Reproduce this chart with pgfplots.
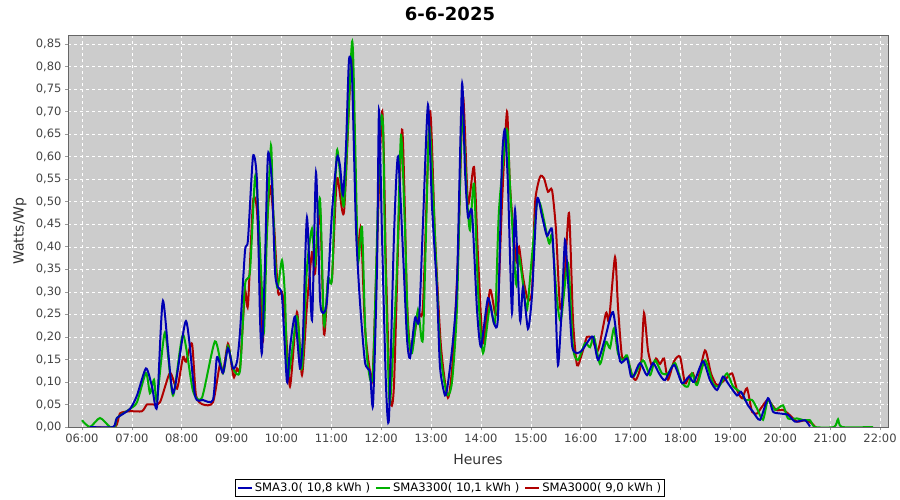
\documentclass[border=0pt]{standalone}
\usepackage{pgfplots}
\pgfplotsset{compat=1.18}
\usepackage{fontspec}
\setmainfont{DejaVu Sans}
\definecolor{cblue}{RGB}{0,0,180}
\definecolor{cgreen}{RGB}{0,176,0}
\definecolor{cred}{RGB}{176,0,0}
\definecolor{plotbg}{RGB}{204,204,204}
\definecolor{ticktext}{RGB}{68,68,68}
\begin{document}
\begin{tikzpicture}
\useasboundingbox (0,0) rectangle (900bp,500bp);
\begin{axis}[
  at={(68bp,73bp)}, anchor=south west,
  width=820bp, height=392bp, scale only axis,
  xmin=5.72, xmax=22.16, ymin=0, ymax=0.87,
  axis background/.style={fill=plotbg},
  axis line style={draw=black!60, line width=0.8bp},
  xtick={6,7,...,22},
  xticklabels={06:00,07:00,08:00,09:00,10:00,11:00,12:00,13:00,14:00,15:00,16:00,17:00,18:00,19:00,20:00,21:00,22:00},
  ytick={0,0.05,...,0.86},
  yticklabel style={/pgf/number format/.cd, fixed, fixed zerofill, precision=2, use comma, assume math mode=true},
  ticklabel style={font=\fontsize{11.5bp}{13bp}\selectfont, text=ticktext},
  tick align=outside, major tick length=3bp,
  tick style={draw=black!40, line width=0.6bp},
  xtick pos=bottom, ytick pos=left,
  grid=major,
  major grid style={draw=white, dashed, line width=0.5bp},
  legend columns=3, reverse legend,
  legend style={at={(0.4659,-0.1556)}, anchor=center, draw=black, line width=0.6bp,
    font=\fontsize{11.6bp}{13bp}\selectfont, inner sep=1.5bp,
    /tikz/every even column/.append style={column sep=3bp}},
  legend cell align=left,
  legend image code/.code={\draw[#1, line width=1.8bp] (0cm,0cm) -- (0.5cm,0cm);},
  clip=true,
]
% SMA3000
\addplot[cred, line width=2bp, smooth, tension=0.4] coordinates {
(6.200,0.0)(6.662,0.0)(6.762,0.03)(6.962,0.035)(7.203,0.035)(7.303,0.05)(7.404,0.05)(7.564,0.055)
(7.764,0.12)(7.905,0.085)(8.025,0.155)(8.085,0.145)(8.206,0.185)(8.286,0.07)(8.426,0.05)(8.627,0.055)
(8.767,0.14)(8.827,0.12)(8.927,0.185)(9.008,0.13)(9.048,0.11)(9.108,0.13)(9.168,0.13)(9.268,0.30)
(9.328,0.27)(9.429,0.50)(9.509,0.48)(9.589,0.28)(9.629,0.19)(9.689,0.40)(9.769,0.535)(9.850,0.45)
(9.930,0.30)(10.010,0.30)(10.070,0.25)(10.170,0.09)(10.311,0.255)(10.411,0.115)(10.511,0.27)
(10.612,0.388)(10.672,0.34)(10.772,0.485)(10.852,0.206)(10.932,0.32)(11.013,0.33)(11.113,0.552)
(11.253,0.477)(11.414,0.826)(11.514,0.41)(11.594,0.44)(11.674,0.22)(11.774,0.125)(11.835,0.13)
(12.015,0.70)(12.095,0.353)(12.175,0.07)(12.256,0.095)(12.416,0.66)(12.516,0.28)(12.596,0.165)
(12.737,0.253)(12.837,0.27)(12.977,0.70)(13.078,0.422)(13.198,0.178)(13.338,0.065)(13.439,0.155)
(13.539,0.378)(13.639,0.733)(13.739,0.497)(13.860,0.577)(13.940,0.378)(14.040,0.186)(14.180,0.304)
(14.281,0.253)(14.341,0.268)(14.421,0.497)(14.521,0.70)(14.581,0.536)(14.702,0.37)(14.762,0.40)
(14.842,0.333)(14.942,0.282)(15.023,0.304)(15.083,0.497)(15.183,0.555)(15.263,0.552)(15.343,0.522)
(15.424,0.526)(15.504,0.437)(15.584,0.266)(15.664,0.31)(15.764,0.475)(15.845,0.237)(15.925,0.137)
(16.025,0.163)(16.125,0.20)(16.226,0.196)(16.346,0.17)(16.506,0.253)(16.567,0.237)(16.687,0.377)
(16.747,0.266)(16.827,0.156)(16.927,0.156)(17.028,0.115)(17.108,0.105)(17.208,0.14)(17.268,0.253)
(17.348,0.17)(17.429,0.135)(17.509,0.152)(17.589,0.14)(17.669,0.152)(17.749,0.105)(17.870,0.146)
(17.990,0.156)(18.090,0.097)(18.170,0.112)(18.251,0.119)(18.331,0.097)(18.491,0.17)(18.611,0.119)
(18.732,0.093)(18.892,0.105)(19.033,0.119)(19.133,0.082)(19.233,0.064)(19.333,0.086)(19.434,0.034)
(19.534,0.03)(19.634,0.045)(19.754,0.06)(19.915,0.038)(20.055,0.038)(20.155,0.03)(20.336,0.012)
(20.496,0.015)(20.637,0.008)(20.697,0.0)
};
\addlegendentry{SMA3000( 9,0 kWh )}
% SMA3300
\addplot[cgreen, line width=2bp, smooth, tension=0.4] coordinates {
(6.000,0.015)(6.160,0.0)(6.361,0.02)(6.561,0.0)(6.662,0.0)(6.702,0.02)(6.962,0.04)(7.103,0.055)
(7.283,0.12)(7.363,0.075)(7.444,0.105)(7.504,0.06)(7.664,0.21)(7.825,0.07)(8.025,0.205)(8.226,0.08)
(8.406,0.065)(8.667,0.19)(8.827,0.12)(8.927,0.18)(9.028,0.13)(9.168,0.125)(9.268,0.315)(9.368,0.345)
(9.469,0.555)(9.529,0.49)(9.609,0.30)(9.649,0.21)(9.709,0.43)(9.789,0.625)(9.830,0.495)(9.910,0.31)
(10.010,0.37)(10.070,0.29)(10.130,0.11)(10.311,0.245)(10.411,0.13)(10.511,0.353)(10.612,0.44)
(10.672,0.36)(10.772,0.507)(10.852,0.226)(10.932,0.33)(11.013,0.33)(11.113,0.614)(11.253,0.493)
(11.414,0.855)(11.474,0.648)(11.534,0.37)(11.614,0.444)(11.674,0.233)(11.734,0.135)(11.835,0.125)
(11.975,0.648)(12.035,0.67)(12.075,0.41)(12.155,0.075)(12.195,0.08)(12.316,0.353)(12.396,0.648)
(12.476,0.44)(12.536,0.22)(12.617,0.164)(12.737,0.26)(12.837,0.20)(12.957,0.66)(13.038,0.525)
(13.178,0.178)(13.318,0.073)(13.419,0.10)(13.519,0.266)(13.619,0.69)(13.719,0.51)(13.779,0.437)
(13.860,0.54)(13.940,0.304)(14.040,0.164)(14.180,0.27)(14.281,0.233)(14.361,0.482)(14.521,0.66)
(14.581,0.536)(14.702,0.318)(14.762,0.378)(14.842,0.318)(14.922,0.26)(15.003,0.356)(15.123,0.497)
(15.203,0.489)(15.363,0.408)(15.424,0.424)(15.524,0.282)(15.604,0.237)(15.744,0.364)(15.845,0.177)
(15.945,0.149)(16.085,0.186)(16.186,0.177)(16.266,0.20)(16.386,0.14)(16.506,0.189)(16.586,0.175)
(16.667,0.219)(16.747,0.163)(16.847,0.148)(16.927,0.159)(17.048,0.112)(17.248,0.148)(17.389,0.115)
(17.489,0.148)(17.629,0.119)(17.749,0.119)(17.890,0.142)(18.030,0.097)(18.150,0.09)(18.231,0.119)
(18.331,0.093)(18.491,0.148)(18.651,0.097)(18.772,0.09)(18.932,0.119)(19.053,0.09)(19.233,0.075)
(19.293,0.06)(19.434,0.06)(19.534,0.041)(19.654,0.016)(19.754,0.06)(19.895,0.038)(20.055,0.048)
(20.155,0.019)(20.336,0.019)(20.476,0.015)(20.596,0.015)(20.697,0.0)(21.078,0.0)(21.158,0.017)
(21.238,0.0)(21.860,0.0)
};
\addlegendentry{SMA3300( 10,1 kWh )}
% SMA3.0
\addplot[cblue, line width=2bp, smooth, tension=0.4] coordinates {
(6.160,0.0)(6.622,0.0)(6.702,0.02)(6.962,0.04)(7.103,0.07)(7.283,0.13)(7.404,0.09)(7.504,0.045)
(7.624,0.28)(7.825,0.075)(8.085,0.235)(8.266,0.07)(8.426,0.06)(8.627,0.06)(8.707,0.155)(8.827,0.12)
(8.927,0.175)(9.028,0.13)(9.108,0.145)(9.168,0.21)(9.268,0.39)(9.328,0.415)(9.429,0.60)(9.509,0.545)
(9.569,0.245)(9.609,0.165)(9.669,0.36)(9.729,0.605)(9.810,0.54)(9.870,0.345)(9.930,0.31)(10.010,0.29)
(10.110,0.10)(10.170,0.175)(10.271,0.245)(10.371,0.13)(10.431,0.205)(10.511,0.465)(10.612,0.237)
(10.692,0.565)(10.772,0.286)(10.832,0.253)(10.912,0.28)(11.013,0.477)(11.113,0.598)(11.173,0.58)
(11.233,0.515)(11.293,0.62)(11.353,0.814)(11.414,0.78)(11.494,0.44)(11.574,0.277)(11.674,0.144)
(11.774,0.122)(11.835,0.049)(11.915,0.353)(11.955,0.703)(12.015,0.426)(12.095,0.093)(12.155,0.02)
(12.256,0.426)(12.336,0.60)(12.436,0.388)(12.516,0.197)(12.576,0.153)(12.677,0.242)(12.757,0.237)
(12.837,0.453)(12.937,0.715)(13.018,0.49)(13.118,0.304)(13.178,0.133)(13.278,0.07)(13.338,0.097)
(13.439,0.193)(13.519,0.32)(13.619,0.76)(13.679,0.57)(13.739,0.466)(13.820,0.477)(13.920,0.26)
(14.000,0.178)(14.140,0.286)(14.261,0.23)(14.341,0.245)(14.421,0.59)(14.481,0.66)(14.541,0.536)
(14.622,0.253)(14.682,0.482)(14.782,0.237)(14.842,0.31)(14.942,0.218)(15.023,0.293)(15.123,0.504)
(15.223,0.468)(15.323,0.424)(15.424,0.438)(15.484,0.31)(15.544,0.137)(15.624,0.275)(15.684,0.415)
(15.744,0.327)(15.825,0.181)(15.925,0.164)(16.025,0.17)(16.145,0.19)(16.246,0.20)(16.346,0.149)
(16.486,0.196)(16.647,0.255)(16.787,0.146)(16.927,0.152)(17.008,0.112)(17.068,0.115)(17.188,0.142)
(17.328,0.115)(17.449,0.142)(17.569,0.119)(17.689,0.104)(17.870,0.138)(18.030,0.097)(18.170,0.112)
(18.271,0.10)(18.451,0.146)(18.591,0.104)(18.732,0.082)(18.852,0.112)(18.952,0.097)(19.133,0.07)
(19.213,0.078)(19.353,0.048)(19.454,0.034)(19.594,0.016)(19.754,0.064)(19.855,0.034)(19.995,0.03)
(20.155,0.027)(20.296,0.012)(20.496,0.015)(20.596,0.001)
};
\addlegendentry{SMA3.0( 10,8 kWh )}
\end{axis}
\node[font=\fontsize{18bp}{20bp}\selectfont\bfseries] at (450bp,486bp) {6-6-2025};
\node[font=\fontsize{14bp}{16bp}\selectfont, text=black!80, rotate=90] at (20bp,269bp) {Watts/Wp};
\node[font=\fontsize{14bp}{16bp}\selectfont, text=black!80] at (478bp,41bp) {Heures};
\end{tikzpicture}
\end{document}
